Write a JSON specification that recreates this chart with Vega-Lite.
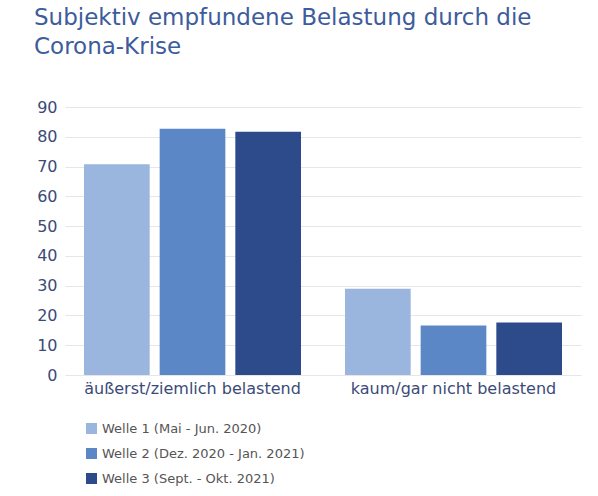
{
  "$schema": "https://vega.github.io/schema/vega-lite/v6.json",
  "autosize": "none",
  "width": 516,
  "height": 268,
  "padding": {"left": 65, "top": 107, "right": 17, "bottom": 121},
  "background": "white",
  "title": {
    "text": ["Subjektiv empfundene Belastung durch die", "Corona-Krise"],
    "anchor": "start",
    "frame": "group",
    "dx": -31,
    "offset": 40,
    "font": "DejaVu Sans",
    "fontSize": 23,
    "fontWeight": "normal",
    "color": "#3d5c9c",
    "lineHeight": 29
  },
  "data": {
    "values": [
      {"kategorie": "äußerst/ziemlich belastend", "welle": "Welle 1 (Mai - Jun. 2020)", "prozent": 70.8},
      {"kategorie": "äußerst/ziemlich belastend", "welle": "Welle 2 (Dez. 2020 - Jan. 2021)", "prozent": 82.7},
      {"kategorie": "äußerst/ziemlich belastend", "welle": "Welle 3 (Sept. - Okt. 2021)", "prozent": 81.7},
      {"kategorie": "kaum/gar nicht belastend", "welle": "Welle 1 (Mai - Jun. 2020)", "prozent": 29.0},
      {"kategorie": "kaum/gar nicht belastend", "welle": "Welle 2 (Dez. 2020 - Jan. 2021)", "prozent": 16.6},
      {"kategorie": "kaum/gar nicht belastend", "welle": "Welle 3 (Sept. - Okt. 2021)", "prozent": 17.6}
    ]
  },
  "mark": {"type": "bar"},
  "encoding": {
    "x": {
      "field": "kategorie",
      "type": "nominal",
      "sort": null,
      "scale": {"paddingInner": 0.1686, "paddingOuter": 0.0728},
      "axis": {
        "title": null,
        "labelAngle": 0,
        "ticks": false,
        "domain": false,
        "labelPadding": 5,
        "labelLimit": 0,
        "labelFont": "DejaVu Sans",
        "labelFontSize": 16,
        "labelColor": "#3b4a78"
      }
    },
    "xOffset": {
      "field": "welle",
      "type": "nominal",
      "sort": null,
      "scale": {"paddingInner": 0.132, "paddingOuter": 0}
    },
    "y": {
      "field": "prozent",
      "type": "quantitative",
      "scale": {"domain": [0, 90], "nice": false},
      "axis": {
        "title": null,
        "values": [0, 10, 20, 30, 40, 50, 60, 70, 80, 90],
        "ticks": false,
        "domain": false,
        "labelPadding": 8,
        "labelFont": "DejaVu Sans",
        "labelFontSize": 16,
        "labelColor": "#3b4a78",
        "gridColor": "#e6e6e6",
        "gridWidth": 1
      }
    },
    "color": {
      "field": "welle",
      "type": "nominal",
      "sort": null,
      "scale": {"range": ["#9ab5de", "#5b87c7", "#2d4a8b"]},
      "legend": {
        "title": null,
        "orient": "none",
        "legendX": 20,
        "legendY": 315,
        "symbolType": "square",
        "symbolSize": 121,
        "symbolStrokeWidth": 0,
        "labelFont": "DejaVu Sans",
        "labelFontSize": 13,
        "labelLimit": 0,
        "labelColor": "#555555",
        "labelOffset": 4,
        "rowPadding": 11
      }
    }
  },
  "config": {
    "view": {"stroke": null}
  }
}
